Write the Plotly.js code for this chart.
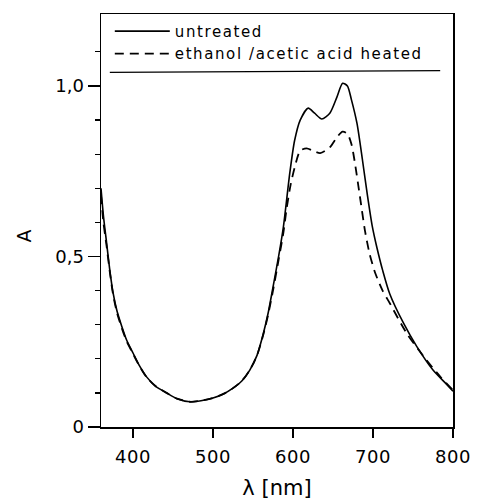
<!DOCTYPE html>
<html><head><meta charset="utf-8">
<script src="https://cdn.plot.ly/plotly-3.0.1.min.js"></script>
<style>html,body{margin:0;padding:0;background:#fff}#chart{width:481px;height:502px}
.legendtext{letter-spacing:1.6px}
.xtick text{letter-spacing:0.5px}
</style>
</head><body><div id="chart"></div>
<script>
const wavelength = [360,363,367,371,375,380,386,392,400,408,417,428,442,455,471,485,500,513,525,536,546,555,563,569,575,582,588,596,602,609,619,627,636,646,655,662,668,673,680,687,693,699,705,712,721,738,755,775,790,800];
const untreated  = [0.70,0.62,0.54,0.46,0.395,0.34,0.295,0.255,0.217,0.18,0.147,0.12,0.10,0.083,0.074,0.077,0.085,0.097,0.114,0.135,0.167,0.21,0.275,0.335,0.41,0.50,0.587,0.745,0.84,0.90,0.935,0.92,0.903,0.92,0.968,1.008,1.0,0.96,0.89,0.78,0.68,0.59,0.525,0.46,0.39,0.305,0.235,0.167,0.13,0.105];
const wavelength2 = [360,363,367,371,375,380,386,392,400,408,417,428,442,455,471,485,500,513,525,536,546,555,563,569,575,582,588,592,597,602,609,617,625,634,646,655,662,668,673,677,684,690,696,703,712,721,742,767,785,800];
const heated     = [0.68,0.60,0.53,0.455,0.39,0.335,0.29,0.252,0.215,0.179,0.146,0.12,0.10,0.083,0.074,0.077,0.085,0.097,0.114,0.135,0.167,0.21,0.272,0.33,0.40,0.49,0.57,0.64,0.71,0.76,0.81,0.817,0.81,0.803,0.82,0.85,0.866,0.86,0.83,0.78,0.67,0.575,0.505,0.45,0.40,0.363,0.275,0.196,0.145,0.108];
const seriesNames = ["untreated","ethanol /acetic acid heated"];
const yTickVals = [0,0.5,1.0];
const yTickText = ["0","0,5","1,0"];
const xTickVals = [400,500,600,700,800];
const fontFam = "DejaVu Sans, sans-serif";
const traces = [
  {x: wavelength, y: untreated, name: seriesNames[0], mode: "lines", line: {shape: "spline", smoothing: 0.7, color: "#000", width: 1.6}},
  {x: wavelength2, y: heated, name: seriesNames[1], mode: "lines", line: {shape: "spline", smoothing: 0.7, color: "#000", width: 1.8, dash: "9px,6px"}}
];
const layout = {
  width: 481, height: 502,
  margin: {l: 101, r: 28, t: 14, b: 75},
  paper_bgcolor: "#fff", plot_bgcolor: "#fff",
  showlegend: true,
  legend: {x: 0.025, y: 0.998, xanchor: "left", yanchor: "top", bgcolor: "rgba(0,0,0,0)", font: {family: fontFam, size: 15, color: "#000"}, tracegroupgap: 0, itemwidth: 55},
  xaxis: {range: [360, 800], tickvals: xTickVals, ticks: "outside", ticklen: 9, tickwidth: 1.5, tickcolor: "#000",
    showline: true, linecolor: "#000", linewidth: 1.5, mirror: true, showgrid: false, zeroline: false,
    ticklabelstandoff: 4,
    tickfont: {family: fontFam, size: 18, color: "#000"},
    title: {text: "λ [nm]", font: {family: fontFam, size: 21, color: "#000"}, standoff: 14}},
  yaxis: {range: [0, 1.211], tickvals: yTickVals, ticktext: yTickText, ticks: "outside", ticklen: 12, tickwidth: 1.2, tickcolor: "#000",
    minor: {tickvals: [0.1,0.2,0.3,0.4,0.6,0.7,0.8,0.9,1.1], ticks: "outside", ticklen: 5, tickwidth: 1.2, tickcolor: "#000", showgrid: false},
    showline: true, linecolor: "#000", linewidth: 1.5, mirror: true, showgrid: false, zeroline: false,
    tickfont: {family: fontFam, size: 18, color: "#000"}},
  annotations: [
    {text: "A", xref: "paper", yref: "y", x: -0.22, y: 0.56, xanchor: "center", yanchor: "middle", textangle: -90, showarrow: false, font: {family: fontFam, size: 19, color: "#000"}}
  ],
  shapes: [
    {type: "line", xref: "x", yref: "y", x0: 371, x1: 784, y0: 1.04, y1: 1.045, line: {color: "#000", width: 1.2}}
  ]
};
Plotly.newPlot("chart", traces, layout, {staticPlot: true, displayModeBar: false});
</script></body></html>
